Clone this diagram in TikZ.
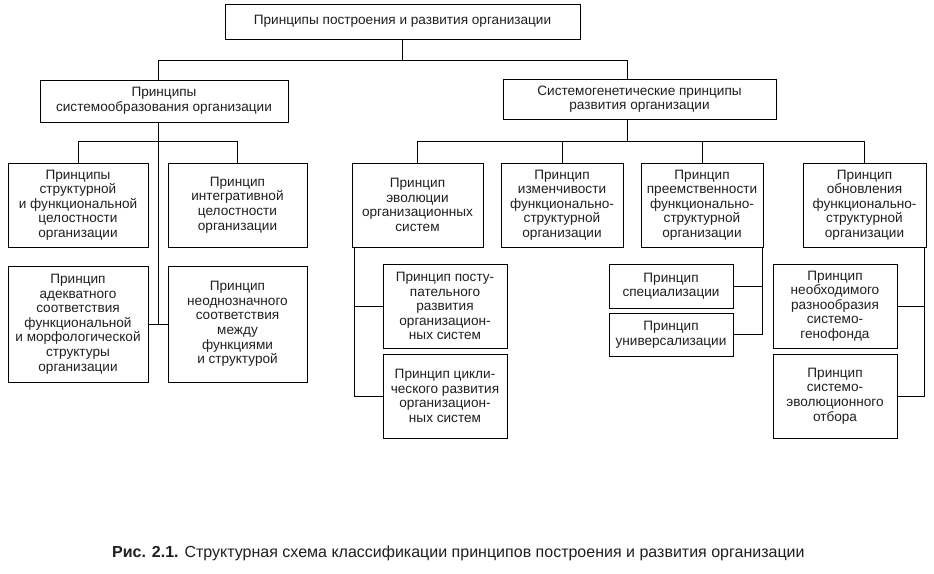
\documentclass[tikz,border=0pt]{standalone}
\usepackage{fontspec}
\setmainfont{Liberation Sans}
\begin{document}
\begin{tikzpicture}[x=1pt,y=-1pt,
  box/.style={draw, line width=0.9pt, inner sep=0pt, align=center, text=black!88,
    font=\fontsize{13.6}{14.6}\selectfont},
  link/.style={line width=0.9pt}]
\useasboundingbox (0,0) rectangle (934,573);
% level 0
\node[box, minimum width=355, minimum height=35] (top) at (402.5,21.5) {Принципы построения и развития организации};
% level 1
\node[box, minimum width=248, minimum height=42] (L) at (164,101) {Принципы\\системообразования организации};
\node[box, minimum width=273, minimum height=40] (R) at (639.5,99) {Системогенетические принципы\\развития организации};
% left children
\node[box, minimum width=140, minimum height=84] (A) at (78,205) {Принципы\\структурной\\и функциональной\\целостности\\организации};
\node[box, minimum width=139, minimum height=84] (B) at (237.5,205) {Принцип\\интегративной\\целостности\\организации};
\node[box, minimum width=140, minimum height=116] (C) at (78,324) {Принцип\\адекватного\\соответствия\\функциональной\\и морфологической\\структуры\\организации};
\node[box, minimum width=139, minimum height=116] (D) at (237.5,324) {Принцип\\неоднозначного\\соответствия\\между\\функциями\\и структурой};
% right children
\node[box, minimum width=131, minimum height=84] (E) at (417.5,205) {Принцип\\эволюции\\организационных\\систем};
\node[box, minimum width=122, minimum height=84] (F) at (562,205) {Принцип\\изменчивости\\функционально-\\структурной\\организации};
\node[box, minimum width=122, minimum height=84] (G) at (702,205) {Принцип\\преемственности\\функционально-\\структурной\\организации};
\node[box, minimum width=123, minimum height=84] (H) at (864.5,205) {Принцип\\обновления\\функционально-\\структурной\\организации};
% grandchildren
\node[box, minimum width=124, minimum height=84] (E1) at (445,306) {Принцип посту-\\пательного\\развития\\организацион-\\ных систем};
\node[box, minimum width=124, minimum height=84] (E2) at (445,396) {Принцип цикли-\\ческого развития\\организацион-\\ных систем};
\node[box, minimum width=124, minimum height=44] (G1) at (671,286) {Принцип\\специализации};
\node[box, minimum width=124, minimum height=43] (G2) at (671,334.5) {Принцип\\универсализации};
\node[box, minimum width=124, minimum height=84] (H1) at (835,306) {Принцип\\необходимого\\разнообразия\\системо-\\генофонда};
\node[box, minimum width=124, minimum height=84] (H2) at (835,396) {Принцип\\системо-\\эволюционного\\отбора};
% junction coordinates
\coordinate (lt) at (158,60);
\coordinate (rt) at (627,60);
\coordinate (lb) at (158,141);
\coordinate (rb) at (627,141);
% connectors level 0-1
\draw[link] (top.south) -- (top.south |- lt);
\draw[link] (lt) -- (rt);
\draw[link] (lt) -- (lt |- L.north);
\draw[link] (rt) -- (rt |- R.north);
% left subtree
\draw[link] (lt |- L.south) -- (lt |- C.east);
\draw[link] (C.east) -- (D.west);
\draw[link] (A.north) -- (A.north |- lb) -- (B.north |- lb) -- (B.north);
% right subtree
\draw[link] (rb |- R.south) -- (rb);
\draw[link] (E.north) -- (E.north |- rb) -- (H.north |- rb) -- (H.north);
\draw[link] (F.north) -- (F.north |- rb);
\draw[link] (G.north) -- (G.north |- rb);
% E subtree
\coordinate (et) at ([xshift=3]E.south west);
\draw[link] (et) |- (E2.west);
\draw[link] (E1.west) -- (E1.west -| et);
% G subtree
\coordinate (gt) at ([xshift=-1]G.south east);
\draw[link] (gt) |- (G2.east);
\draw[link] (G1.east) -- (G1.east -| gt);
% H subtree
\coordinate (ht) at ([xshift=-2]H.south east);
\draw[link] (ht) |- (H2.east);
\draw[link] (H1.east) -- (H1.east -| ht);
% caption
\node[anchor=base west, inner sep=0pt, text=black!88, font=\fontsize{16}{18}\selectfont] (cap) at (112,557) {\textbf{Рис. 2.1.} Структурная схема классификации принципов построения и развития организации};
\end{tikzpicture}
\end{document}
